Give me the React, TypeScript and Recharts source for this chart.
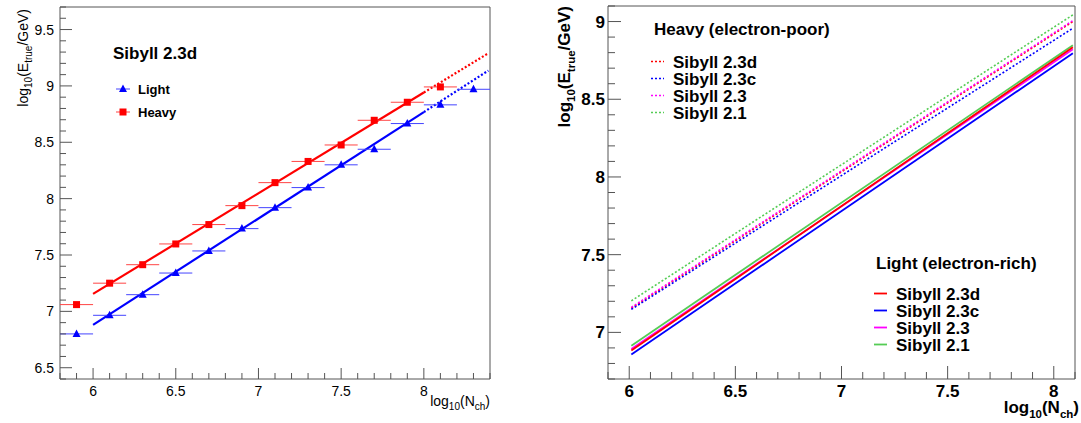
import React from 'react';
import { ComposedChart, Line, Scatter, XAxis, YAxis, ErrorBar, ReferenceArea } from 'recharts';

// left pad: Sibyll 2.3d calibration, profile points per log10(Nch) bin
const binCentres = [5.9, 6.1, 6.3, 6.5, 6.7, 6.9, 7.1, 7.3, 7.5, 7.7, 7.9, 8.1, 8.3];
const binHalfWidth = 0.1;
const lightMeans = [6.8, 6.965, 7.148, 7.34, 7.536, 7.734, 7.92, 8.098, 8.3, 8.438, 8.666, 8.832, 8.97];
const heavyMeans = [7.06, 7.25, 7.414, 7.598, 7.77, 7.938, 8.142, 8.33, 8.476, 8.695, 8.855, 8.991];

// linear fits: solid over fit range, dotted extrapolation
const fitX = [6.0, 8.0, 8.39];
const lightFitY = [6.88, 8.768, 9.136];
const heavyFitY = [7.155, 8.941, 9.29];

// right pad: fitted calibration lines per hadronic model
const modelNames = ['Sibyll 2.3d', 'Sibyll 2.3c', 'Sibyll 2.3', 'Sibyll 2.1'];
const lineX = [6.01, 8.09];
const lightStart = [6.884, 6.858, 6.893, 6.914];
const lightEnd = [8.835, 8.796, 8.822, 8.848];
const heavyStart = [7.155, 7.148, 7.161, 7.203];
const heavyEnd = [9.0, 8.957, 9.006, 9.043];

const leftXMajor = [6, 6.5, 7, 7.5, 8];
const leftYMajor = [6.5, 7, 7.5, 8, 8.5, 9, 9.5];
const rightXMajor = [6, 6.5, 7, 7.5, 8];
const rightYMajor = [7, 7.5, 8, 8.5, 9];

const modelColours = ['#ff0000', '#0000ff', '#ff00ff', '#55cc55'];
const FONT = '"Liberation Sans", Arial, Helvetica, sans-serif';
const AXIS = '#555';

// minor ticks every 0.1 inside the frame
const tenths = (lo: number, hi: number) => {
  const out: number[] = [];
  for (let i = Math.ceil(lo * 10 - 1e-6); i <= Math.floor(hi * 10 + 1e-6); i++) out.push(i / 10);
  return out;
};
const isMajor = (v: number, major: number[]) => major.some((m) => Math.abs(m - v) < 1e-6);

const yTick = (plotLeft: number, major: number[], len: number[], fs: number, bold: boolean, gap: number) => (p: any) => {
  const v = p.payload.value;
  const mj = isMajor(v, major);
  return (
    <g>
      <line x1={plotLeft} x2={plotLeft + (mj ? len[0] : len[1])} y1={p.y} y2={p.y} stroke={AXIS} />
      {mj && (
        <text x={plotLeft - gap} y={p.y} dy="0.36em" textAnchor="end" fontSize={fs}
          fontWeight={bold ? 'bold' : 'normal'} fontFamily={FONT} fill="#000">{String(v)}</text>
      )}
    </g>
  );
};

const xTick = (plotBottom: number, major: number[], len: number[], fs: number, bold: boolean, gap: number) => (p: any) => {
  const v = p.payload.value;
  const mj = isMajor(v, major);
  return (
    <g>
      <line x1={p.x} x2={p.x} y1={plotBottom} y2={plotBottom - (mj ? len[0] : len[1])} stroke={AXIS} />
      {mj && (
        <text x={p.x} y={plotBottom + gap} dy="0.36em" textAnchor="middle" fontSize={fs}
          fontWeight={bold ? 'bold' : 'normal'} fontFamily={FONT} fill="#000">{String(v)}</text>
      )}
    </g>
  );
};

const triangle = (p: any) => (
  <polygon points={`${p.cx},${p.cy - 4.5} ${p.cx - 4},${p.cy + 3} ${p.cx + 4},${p.cy + 3}`} fill="#0000ff" />
);
const square = (p: any) => <rect x={p.cx - 3.5} y={p.cy - 3.5} width={7} height={7} fill="#ff0000" />;

const lightPts = binCentres.map((x, i) => ({ x, y: lightMeans[i], xerr: binHalfWidth }));
const heavyPts = heavyMeans.map((y, i) => ({ x: binCentres[i], y, xerr: binHalfWidth }));
const seg = (ys: number[], a: number, b: number) => [
  { x: fitX[a], y: ys[a] },
  { x: fitX[b], y: ys[b] },
];

const LeftPad = () => (
  <ComposedChart width={500} height={423} margin={{ top: 7, right: 10, bottom: 14, left: 0 }}>
    <XAxis type="number" dataKey="x" domain={[5.8, 8.4]} allowDataOverflow ticks={tenths(5.8, 8.4)}
      interval={0} axisLine={false} tickLine={false} height={30} tick={xTick(379, leftXMajor, [11, 6], 14, false, 12)} />
    <YAxis type="number" domain={[6.4, 9.7]} allowDataOverflow ticks={tenths(6.4, 9.7)}
      interval={0} axisLine={false} tickLine={false} width={60} tick={yTick(60, leftYMajor, [12, 6], 14, false, 6)} />
    <ReferenceArea x1={5.8} x2={8.4} y1={6.4} y2={9.7} fill="none" stroke={AXIS} strokeWidth={1} />
    <Line data={seg(heavyFitY, 0, 1)} dataKey="y" stroke="#ff0000" strokeWidth={2.2} dot={false} isAnimationActive={false} />
    <Line data={seg(heavyFitY, 1, 2)} dataKey="y" stroke="#ff0000" strokeWidth={2.2} strokeDasharray="2 2" dot={false} isAnimationActive={false} />
    <Line data={seg(lightFitY, 0, 1)} dataKey="y" stroke="#0000ff" strokeWidth={2.2} dot={false} isAnimationActive={false} />
    <Line data={seg(lightFitY, 1, 2)} dataKey="y" stroke="#0000ff" strokeWidth={2.2} strokeDasharray="2 2" dot={false} isAnimationActive={false} />
    <Scatter data={heavyPts} dataKey="y" shape={square} isAnimationActive={false}>
      <ErrorBar dataKey="xerr" direction="x" width={0} stroke="#ff4444" strokeWidth={1} isAnimationActive={false} />
    </Scatter>
    <Scatter data={lightPts} dataKey="y" shape={triangle} isAnimationActive={false}>
      <ErrorBar dataKey="xerr" direction="x" width={0} stroke="#4444ff" strokeWidth={1} isAnimationActive={false} />
    </Scatter>
  </ComposedChart>
);

const RightPad = () => (
  <ComposedChart width={551} height={423} margin={{ top: 6, right: 6, bottom: 14, left: 0 }}>
    <XAxis type="number" dataKey="x" domain={[5.9, 8.1]} allowDataOverflow ticks={tenths(5.9, 8.1)}
      interval={0} axisLine={false} tickLine={false} height={30} tick={xTick(379, rightXMajor, [13, 7], 17, true, 12)} />
    <YAxis type="number" domain={[6.7, 9.1]} allowDataOverflow ticks={tenths(6.7, 9.1)}
      interval={0} axisLine={false} tickLine={false} width={78} tick={yTick(78, rightYMajor, [13, 7], 17, true, 3)} />
    <ReferenceArea x1={5.9} x2={8.1} y1={6.7} y2={9.1} fill="none" stroke={AXIS} strokeWidth={1} />
    {modelNames.map((m, i) => (
      <Line key={'h' + m} data={[{ x: lineX[0], y: heavyStart[i] }, { x: lineX[1], y: heavyEnd[i] }]} dataKey="y"
        stroke={modelColours[i]} strokeWidth={1.6} strokeDasharray="2 2" dot={false} isAnimationActive={false} />
    ))}
    {[3, 1, 2, 0].map((i) => (
      <Line key={'l' + modelNames[i]} data={[{ x: lineX[0], y: lightStart[i] }, { x: lineX[1], y: lightEnd[i] }]} dataKey="y"
        stroke={modelColours[i]} strokeWidth={1.8} dot={false} isAnimationActive={false} />
    ))}
  </ComposedChart>
);

const sub = (t: string, fs: number, d: number) => [
  <tspan key={t + 'a'} dy={d} fontSize={fs}>{t}</tspan>,
];

const Overlay = () => (
  <svg width={1081} height={423} style={{ position: 'absolute', left: 0, top: 0, pointerEvents: 'none' }} fontFamily={FONT}>
    {/* left pad titles */}
    <text transform="translate(28,9) rotate(-90)" textAnchor="end" fontSize={14} fill="#000">
      log{sub('10', 10, 4)}<tspan dy={-4}>(E</tspan>{sub('true', 10, 4)}<tspan dy={-4}>/GeV)</tspan>
    </text>
    <text x={490} y={406} textAnchor="end" fontSize={14} fill="#000">
      log{sub('10', 10, 4)}<tspan dy={-4}>(N</tspan>{sub('ch', 10, 4)}<tspan dy={-4}>)</tspan>
    </text>
    <text x={113} y={59} fontSize={17} fontWeight="bold">Sibyll 2.3d</text>
    <line x1={116} x2={130} y1={89} y2={89} stroke="#4444ff" />
    <polygon points="123,84.5 119,92 127,92" fill="#0000ff" />
    <text x={138} y={93.5} fontSize={13} fontWeight="bold">Light</text>
    <line x1={116} x2={130} y1={112} y2={112} stroke="#ff4444" />
    <rect x={119.5} y={108.5} width={7} height={7} fill="#ff0000" />
    <text x={138} y={116.5} fontSize={13} fontWeight="bold">Heavy</text>

    {/* right pad titles */}
    <text transform="translate(570,6) rotate(-90)" textAnchor="end" fontSize={17} fontWeight="bold" fill="#000">
      log{sub('10', 11.5, 5)}<tspan dy={-5}>(E</tspan>{sub('true', 11.5, 5)}<tspan dy={-5}>/GeV)</tspan>
    </text>
    <text x={1079} y={413} textAnchor="end" fontSize={17} fontWeight="bold" fill="#000">
      log{sub('10', 11.5, 5)}<tspan dy={-5}>(N</tspan>{sub('ch', 11.5, 5)}<tspan dy={-5}>)</tspan>
    </text>
    <text x={654} y={35} fontSize={17} fontWeight="bold">Heavy (electron-poor)</text>
    {modelNames.map((m, i) => (
      <g key={'hl' + m}>
        <line x1={651} x2={664} y1={61.5 + 17 * i} y2={61.5 + 17 * i} stroke={modelColours[i]} strokeWidth={1.6} strokeDasharray="2 2" />
        <text x={673} y={67.5 + 17 * i} fontSize={17} fontWeight="bold">{m}</text>
      </g>
    ))}
    <text x={876} y={268.5} fontSize={17} fontWeight="bold">Light (electron-rich)</text>
    {modelNames.map((m, i) => (
      <g key={'ll' + m}>
        <line x1={874} x2={887} y1={293.5 + 17 * i} y2={293.5 + 17 * i} stroke={modelColours[i]} strokeWidth={1.8} />
        <text x={896} y={299.5 + 17 * i} fontSize={17} fontWeight="bold">{m}</text>
      </g>
    ))}
  </svg>
);

export default function App() {
  return (
    <div style={{ position: 'fixed', left: 0, top: 0, width: 1081, height: 423, background: '#fff', fontFamily: FONT }}>
      <div style={{ position: 'absolute', left: 0, top: 0 }}>
        <LeftPad />
      </div>
      <div style={{ position: 'absolute', left: 530, top: 0 }}>
        <RightPad />
      </div>
      <Overlay />
    </div>
  );
}
